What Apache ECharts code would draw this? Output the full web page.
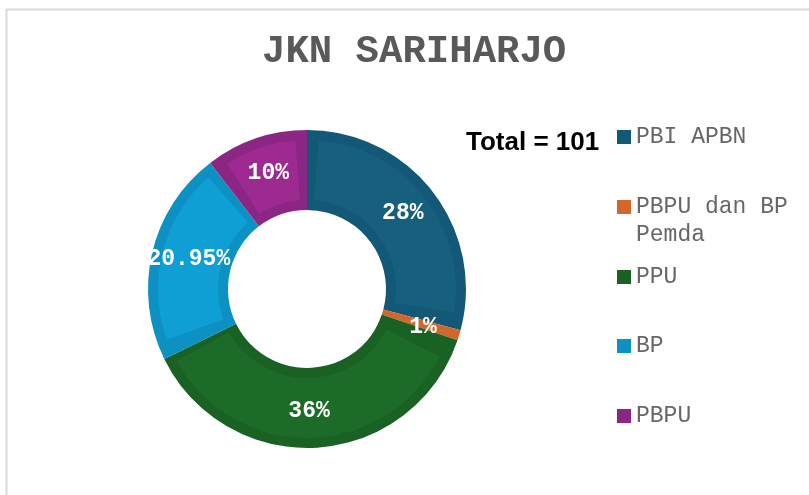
<!DOCTYPE html>
<html>
<head>
<meta charset="utf-8">
<script src="https://cdn.jsdelivr.net/npm/echarts@6/dist/echarts.min.js"></script>
<style>
  html, body { margin: 0; padding: 0; background: #fff; }
  #chart { width: 809px; height: 495px; }
</style>
</head>
<body>
<div id="chart"></div>
<script>
// data
var categories = ["PBI APBN", "PBPU dan BP Pemda", "PPU", "BP", "PBPU"];
var values = [28, 1, 36, 20.95, 10];
var mainColors = ["#16607e", "#d2672b", "#1c6b28", "#0f9fd4", "#9c2a91"];
var edgeColors = ["#135876", "#d2672b", "#196224", "#0d90c2", "#8c2684"];
var totalText = "Total = 101";

var chart = echarts.init(document.getElementById("chart"));

var pieCenter = [307, 289];
var legendTops = [137, 207, 277, 346, 416]; // icon centers

// one legend per item so the wrapped item can sit like the original
var legends = categories.map(function (name, i) {
  var multi = name === "PBPU dan BP Pemda";
  return {
    data: [name],
    orient: "vertical",
    left: 617,
    top: legendTops[i] - (multi ? 42 : 14),
    padding: 0,
    itemWidth: 14,
    itemHeight: 14,
    itemGap: 5,
    icon: "rect",
    selectedMode: false,
    formatter: function (n) {
      return n === "PBPU dan BP Pemda" ? " \nPBPU dan BP\nPemda" : n;
    },
    textStyle: {
      fontFamily: "Liberation Mono",
      fontSize: 23,
      lineHeight: 28,
      color: "#666666",
    },
  };
});

var option = {
  animation: false,
  backgroundColor: "#fff",
  title: [
    {
      text: "JKN SARIHARJO",
      left: 262,
      top: 33,
      padding: 0,
      textStyle: {
        fontFamily: "Liberation Mono",
        fontSize: 39,
        fontWeight: "bold",
        color: "#595959",
      },
    },
    {
      text: totalText,
      left: 466,
      top: 130,
      padding: 0,
      textStyle: {
        fontFamily: "Liberation Sans",
        fontSize: 26,
        fontWeight: "bold",
        color: "#000",
      },
    },
  ],
  legend: legends,
  graphic: [
    {
      type: "rect",
      shape: { x: 6.5, y: 9.5, width: 820, height: 500 },
      style: { fill: "none", stroke: "#d9d9d9", lineWidth: 2 },
      silent: true,
    },
  ],
  series: [
    {
      // darker band under each slice
      type: "pie",
      center: pieCenter,
      radius: [79, 159],
      startAngle: 90,
      clockwise: true,
      silent: true,
      label: { show: false },
      labelLine: { show: false },
      data: categories.map(function (n, i) {
        return { name: n, value: values[i], itemStyle: { color: edgeColors[i] } };
      }),
    },
    {
      type: "pie",
      center: pieCenter,
      radius: [89, 149],
      startAngle: 90,
      clockwise: true,
      padAngle: 9,
      silent: true,
      label: {
        show: true,
        position: "inside",
        formatter: "{c}%",
        fontFamily: "Liberation Mono",
        fontSize: 23,
        fontWeight: "bold",
        color: "#fff",
      },
      labelLine: { show: false },
      data: categories.map(function (n, i) {
        return { name: n, value: values[i], itemStyle: { color: mainColors[i] } };
      }),
    },
  ],
};

chart.setOption(option);
</script>
</body>
</html>
